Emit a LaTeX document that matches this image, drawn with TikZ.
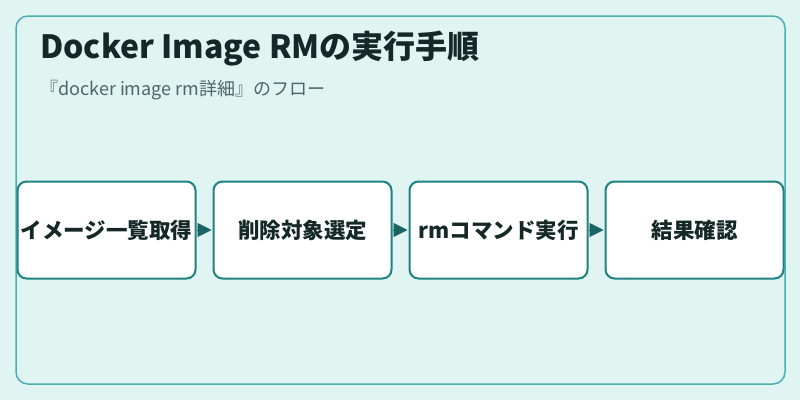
\documentclass[tikz,border=0pt]{standalone}
\usepackage{fontspec}
\setmainfont{Noto Sans CJK JP}
\usetikzlibrary{arrows.meta}
\definecolor{bgc}{HTML}{E0F4F2}
\definecolor{framec}{HTML}{4AAFAF}
\definecolor{boxc}{HTML}{1E8282}
\definecolor{txtc}{HTML}{142828}
\definecolor{subc}{HTML}{4A6868}
\definecolor{arrc}{HTML}{1A6464}
\tikzset{
  stepbox/.style={draw=boxc, line width=2pt, fill=white, rounded corners=9pt,
    minimum width=178pt, minimum height=97pt, inner sep=0pt,
    font=\fontsize{21.5}{25}\selectfont\bfseries, text=txtc},
  flowarrow/.style={draw=arrc, line width=0.8pt, -{Triangle[length=14pt,width=14pt]}, fill=arrc, shorten >=1pt}
}
\begin{document}
\begin{tikzpicture}[x=1pt,y=-1pt]
\useasboundingbox (0,0) rectangle (800,400);
\fill[bgc] (0,0) rectangle (800,400);
\draw[framec, line width=1.5pt, rounded corners=12pt] (16,16) rectangle (785,384);
\node[anchor=base west, font=\fontsize{32}{36}\selectfont\bfseries, text=txtc, inner sep=0pt] (title) at (40,58) {Docker Image RMの実行手順};
\node[anchor=base west, font=\fontsize{18}{21}\selectfont, text=subc, inner sep=0pt] (sub) at (40,95) {『docker image rm詳細』のフロー};
\node[stepbox] (s1) at (106.5,230) {イメージ一覧取得};
\node[stepbox] (s2) at (302.5,230) {削除対象選定};
\node[stepbox] (s3) at (498.5,230) {rmコマンド実行};
\node[stepbox] (s4) at (694.5,230) {結果確認};
\draw[flowarrow] (s1) -- (s2);
\draw[flowarrow] (s2) -- (s3);
\draw[flowarrow] (s3) -- (s4);
\end{tikzpicture}
\end{document}
